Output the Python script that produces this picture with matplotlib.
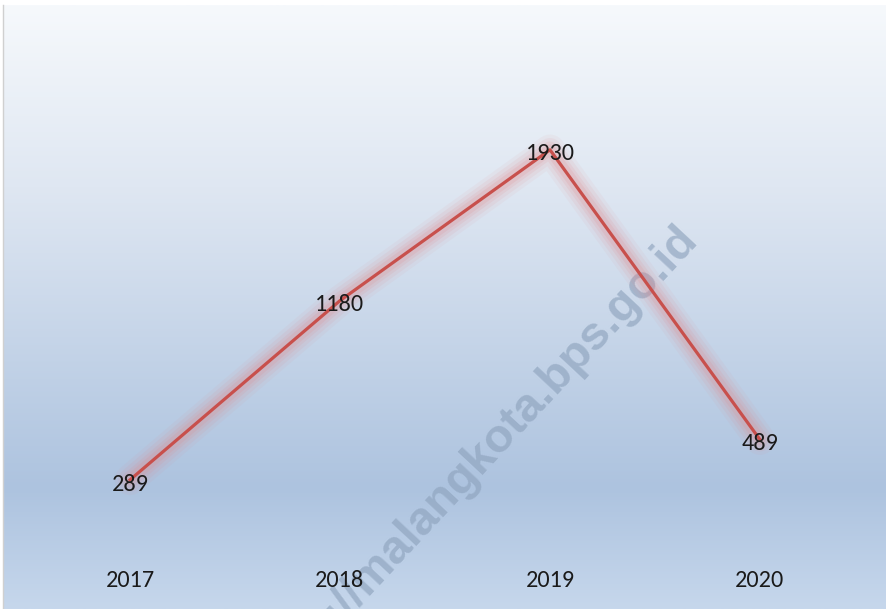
import numpy as np
import matplotlib.pyplot as plt
from matplotlib.colors import LinearSegmentedColormap
import matplotlib.transforms as mtransforms

# data
years = ["2017", "2018", "2019", "2020"]
values = [289, 1180, 1930, 489]

font = ["Carlito", "Liberation Sans Narrow", "Lato", "DejaVu Sans"]
plt.rcParams['font.family'] = font

W, H = 887, 609
fig = plt.figure(figsize=(W / 100, H / 100), dpi=100)
fig.patch.set_facecolor("white")

# background panel with vertical gradient
left, top = 4 / W, (H - 5) / H
bg = fig.add_axes([left, 0, 1 - left, top])
grad_cmap = LinearSegmentedColormap.from_list(
    "bg", [(0.0, "#f6f9fc"), (0.3, "#dfe7f2"), (0.8, "#adc3df"), (1.0, "#c6d7ec")])
bg.imshow(np.linspace(0, 1, 256).reshape(-1, 1), aspect="auto", cmap=grad_cmap,
          extent=[0, 1, 1, 0])
bg.set_xlim(0, 1)
bg.set_ylim(1, 0)
bg.axis("off")
fig.add_artist(plt.Line2D([3.5 / W, 3.5 / W], [0, top], color="#d0d0d0", lw=1))

ax = fig.add_axes([left, 0, 1 - left, top])
ax.set_facecolor("none")
x = np.arange(len(years))

# watermark
ax.text(0.777, 0.625, "https://malangkota.bps.go.id", transform=ax.transAxes,
        rotation=47, rotation_mode="anchor", ha="right", va="center",
        fontsize=34, fontweight="bold", family=["Liberation Sans", "DejaVu Sans"],
        color="#8ea3bd", alpha=0.65, zorder=1)

# glow under the line
for lw, a in [(22, 0.07), (17, 0.1), (12, 0.13), (8, 0.17)]:
    ax.plot(x, values, color="#e08a8c", lw=lw, alpha=a, solid_capstyle="round",
            solid_joinstyle="round", zorder=2)
ax.plot(x, values, color="#c8504c", lw=2.3, zorder=3)

for xi, v in zip(x, values):
    ax.annotate(str(v), (xi, v), xytext=(0, -3), textcoords="offset points",
                ha="center", va="center", fontsize=17.5, color="#1a1a1a", zorder=4)

trans = mtransforms.blended_transform_factory(ax.transData, ax.transAxes)
for xi, yr in zip(x, years):
    ax.text(xi, 0.048, yr, transform=trans, ha="center", va="center",
            fontsize=17.5, color="#1a1a1a")

ax.set_xlim(-0.6, 3.605)
ax.set_ylim(-353, 2650)
ax.axis("off")

fig.savefig("out.png", dpi=100)
